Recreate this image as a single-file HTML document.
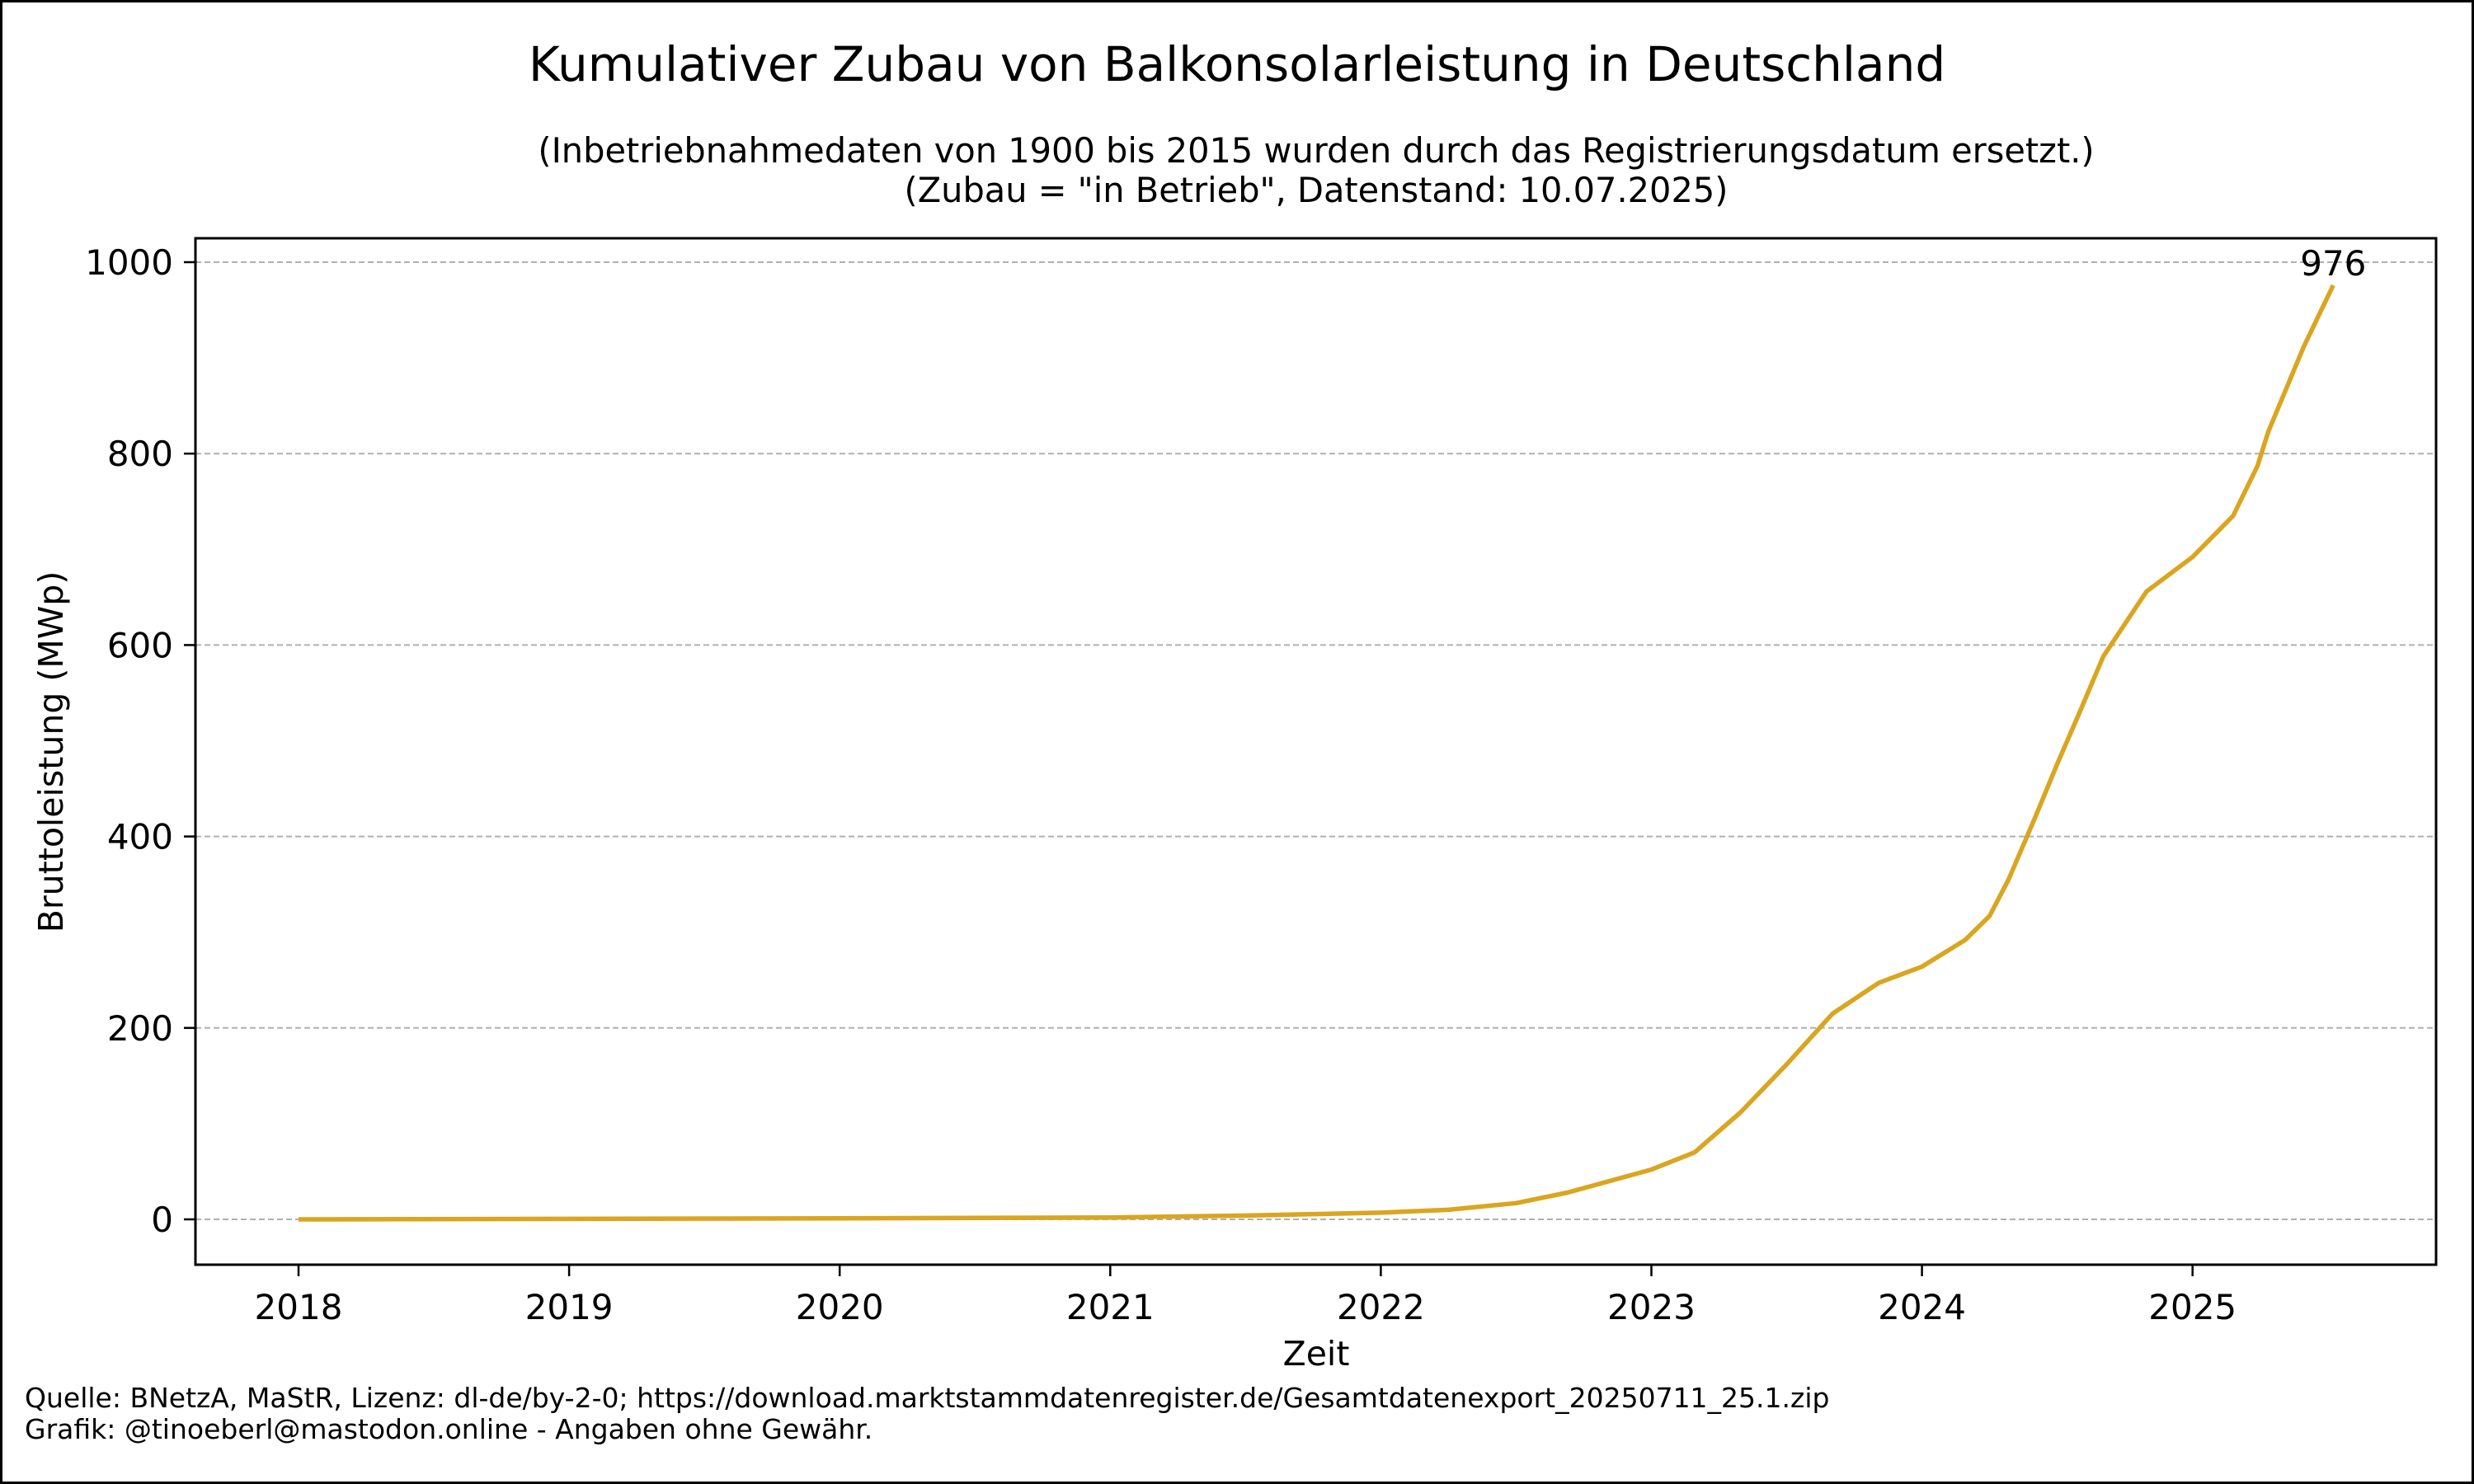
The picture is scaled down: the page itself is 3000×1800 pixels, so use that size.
<!DOCTYPE html>
<html><head><meta charset="utf-8"><style>
html,body{margin:0;padding:0;background:#fff}
svg{display:block;font-family:"DejaVu Sans","Liberation Sans",sans-serif}
</style></head><body>
<svg id="c" width="3000" height="1800" viewBox="0 0 3000 1800" xmlns="http://www.w3.org/2000/svg">
<rect x="1.5" y="1.5" width="2997" height="1797" fill="#fff" stroke="#000" stroke-width="3"/>
<text x="1500" y="98" text-anchor="middle" font-size="58">Kumulativer Zubau von Balkonsolarleistung in Deutschland</text>
<text x="1596" y="197" text-anchor="middle" font-size="41.5">(Inbetriebnahmedaten von 1900 bis 2015 wurden durch das Registrierungsdatum ersetzt.)</text>
<text x="1596" y="245" text-anchor="middle" font-size="41.5">(Zubau = "in Betrieb", Datenstand: 10.07.2025)</text>
<g id="grid"></g>
<g id="plot"></g>
<rect x="237" y="289" width="2717" height="1245" fill="none" stroke="#000" stroke-width="3"/>
<g id="axes"></g>
<text x="1596" y="1656" text-anchor="middle" font-size="41">Zeit</text>
<text transform="translate(76,912) rotate(-90)" text-anchor="middle" font-size="41">Bruttoleistung (MWp)</text>
<text x="30" y="1707" font-size="33">Quelle: BNetzA, MaStR, Lizenz: dl-de/by-2-0; https://download.marktstammdatenregister.de/Gesamtdatenexport_20250711_25.1.zip</text>
<text x="30" y="1745" font-size="33">Grafik: @tinoeberl@mastodon.online - Angaben ohne Gewähr.</text>
</svg>
<script>
const years=[2018,2020,2021,2021.5,2022,2022.25,2022.5,2022.69,2023,2023.16,2023.33,2023.5,2023.67,2023.84,2024,2024.16,2024.25,2024.32,2024.42,2024.5,2024.58,2024.67,2024.83,2025,2025.15,2025.24,2025.28,2025.41,2025.52];
const values=[0,1,2,4,7,10,17,28,52,70,112,162,215,247,264,292,317,355,421,476,528,588,656,692,735,787,823,911,976];
const xTicks=[2018,2019,2020,2021,2022,2023,2024,2025];
const yTicks=[0,200,400,600,800,1000];
const finalLabel="976";
const NS="http://www.w3.org/2000/svg";
const X=v=>362+(v-2018)*328.1;
const Y=v=>1479-v*1.161;
function mk(tag,attrs,parent){const e=document.createElementNS(NS,tag);for(const k in attrs)e.setAttribute(k,attrs[k]);parent.appendChild(e);return e;}
const grid=document.getElementById('grid'),axes=document.getElementById('axes'),plot=document.getElementById('plot');
yTicks.forEach(t=>{
 const g=mk('line',{x1:237,x2:2954,y1:Y(t),y2:Y(t),stroke:'#b0b0b0','stroke-width':2,'stroke-dasharray':'7,4'},grid);
 
 
 const tk=mk('line',{x1:223,x2:237,y1:Y(t),y2:Y(t),stroke:'#000','stroke-width':2.5},axes);
 
 
 const tx=mk('text',{x:210,y:Y(t)+15,'text-anchor':'end','font-size':42},axes);
 tx.textContent=t;
 
 
});
xTicks.forEach(t=>{
 const tk=mk('line',{x1:X(t),x2:X(t),y1:1534,y2:1548,stroke:'#000','stroke-width':2.5},axes);
 
 
 const tx=mk('text',{x:X(t),y:1600,'text-anchor':'middle','font-size':42},axes);
 tx.textContent=t;
 
 
});
const d=years.map((y,i)=>(i?'L':'M')+X(y).toFixed(1)+','+Y(values[i]).toFixed(1)).join(' ');
const line=mk('path',{d:d,fill:'none',stroke:'#DAA520','stroke-width':5.5,'stroke-linejoin':'round'},plot);


const lx=years[years.length-1],lv=values[values.length-1];
const lab=mk('text',{x:X(lx),y:Y(lv)-12,'text-anchor':'middle','font-size':42},plot);
lab.textContent=finalLabel;


</script>
</body></html>
